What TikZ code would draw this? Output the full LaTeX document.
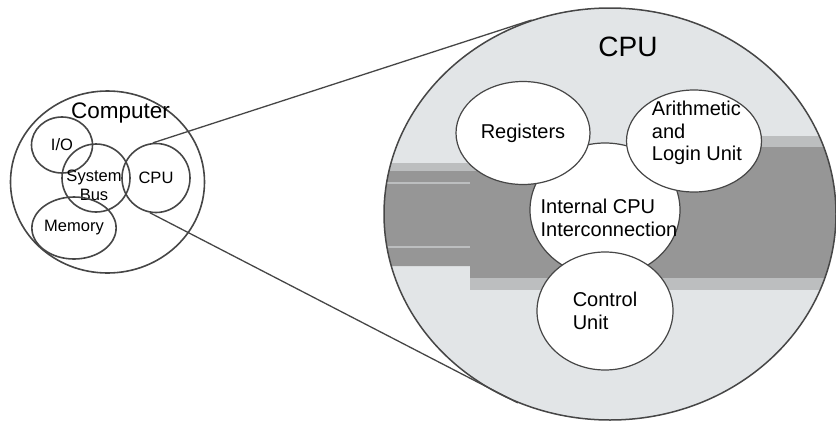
\documentclass[tikz,border=0pt]{standalone}
\usepackage{fontspec}
\setmainfont{Liberation Sans}
\usetikzlibrary{shapes.geometric}
\definecolor{lightfill}{RGB}{226,229,231}
\definecolor{darkband}{RGB}{150,150,150}
\definecolor{midband}{RGB}{188,190,191}
\definecolor{edge}{RGB}{70,70,70}

\begin{document}
\begin{tikzpicture}[x=1pt, y=-1pt,
  part/.style={ellipse, draw=edge, line width=1.6pt, inner sep=0pt},
  unit/.style={ellipse, draw=edge, fill=white, line width=1.2pt, inner sep=0pt},
  small/.style={font=\fontsize{16.5}{19}\selectfont, align=center},
  big/.style={font=\fontsize{20}{22.5}\selectfont, align=left}]
  \useasboundingbox (0,0) rectangle (836,421);

  % the computer
  \node[part, minimum width=194pt, minimum height=182pt] (PC) at (107.5,182) {};
  \node[font=\fontsize{22.5}{25}\selectfont] (PCtext) at (120.5,113) {Computer};
  \node[part, minimum width=61pt, minimum height=56pt, small] (IO) at (62,145) {I/O};
  \node[part, minimum width=68pt, minimum height=68pt] (Bus) at (96,178) {};
  \node[small] (Bustext) at (94,185) {System\\Bus};
  \node[part, minimum width=68pt, minimum height=69pt, small] (CPU) at (156,178) {CPU};
  \node[part, minimum width=68pt, minimum height=62pt, small] (Mem) at (74,228) {Memory};

  % the cpu, enlarged
  \fill[lightfill] (610,214) ellipse [x radius=226pt, y radius=206pt];
  \begin{scope}
    \clip (610,214) ellipse [x radius=226pt, y radius=206pt];
    \fill[darkband] (383,163) -- (640,163) -- (640,137) -- (836,137)
      -- (836,280) -- (470,280) -- (470,266) -- (383,266) -- cycle;
    \fill[midband] (383,163) rectangle (640,171);
    \fill[midband] (640,136) rectangle (836,147);
    \fill[midband] (470,278) rectangle (836,290);
    \fill[midband] (383,182) rectangle (470,184);
    \fill[midband] (383,246) rectangle (470,248);
  \end{scope}
  \node[ellipse, draw=edge, line width=1.5pt, inner sep=0pt,
    minimum width=452pt, minimum height=412pt] (BigCPU) at (610,214) {};
  \node[font=\fontsize{28}{30}\selectfont] (BigCPUtext) at (628,47) {CPU};

  \node[unit, minimum width=150pt, minimum height=134pt] (ICI) at (605,210) {};
  \node[unit, minimum width=134pt, minimum height=103pt, big] (Reg) at (523,133) {Registers};
  \node[unit, minimum width=135pt, minimum height=102pt] (ALU) at (694,141) {};
  \node[big] (ALUtext) at (697,133) {Arithmetic\\and\\Login Unit};
  \node[unit, minimum width=136pt, minimum height=118pt, big] (CU) at (605,311) {Control\\Unit};
  \node[big] (ICItext) at (609,218) {Internal CPU\\Interconnection};

  \draw[edge, line width=1.3pt] (CPU.95) -- (BigCPU.112);
  \draw[edge, line width=1.3pt] (CPU.-100) -- (BigCPU.-116);
\end{tikzpicture}
\end{document}
